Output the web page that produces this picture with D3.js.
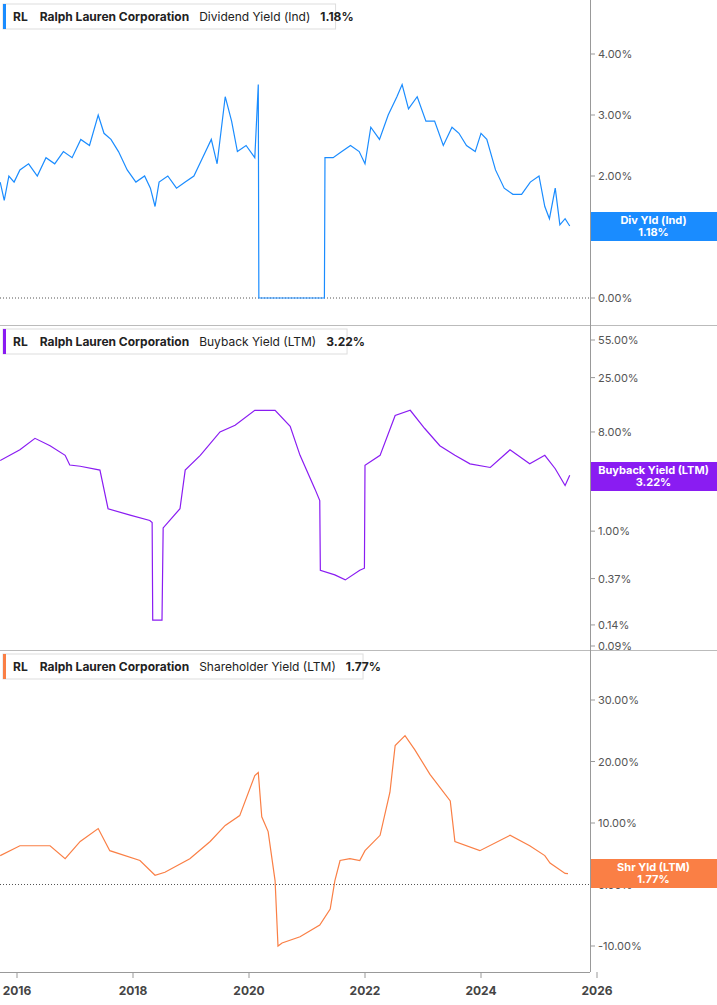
<!DOCTYPE html>
<html><head><meta charset="utf-8">
<script src="https://cdn.jsdelivr.net/npm/d3@7"></script>
<style>body{margin:0;background:#fff}svg{display:block;font-family:Inter,"Noto Sans",sans-serif}</style>
</head><body><div id="chart"></div>
<script>
// dates as decimal years
const divDates = [2015.71,2015.78,2015.86,2015.95,2016.05,2016.2,2016.35,2016.5,2016.65,2016.8,2016.95,2017.1,2017.25,2017.4,2017.5,2017.62,2017.75,2017.9,2018.05,2018.2,2018.3,2018.38,2018.45,2018.6,2018.75,2018.9,2019.05,2019.2,2019.35,2019.45,2019.59,2019.7,2019.8,2019.95,2020.1,2020.16,2020.17,2021.30,2021.31,2021.45,2021.6,2021.75,2021.9,2022.0,2022.1,2022.25,2022.4,2022.55,2022.64,2022.75,2022.9,2023.05,2023.2,2023.35,2023.5,2023.62,2023.75,2023.9,2024.0,2024.1,2024.25,2024.4,2024.55,2024.7,2024.85,2025.0,2025.1,2025.18,2025.28,2025.36,2025.45,2025.53];
const divVals = [1.9,1.6,2.0,1.9,2.1,2.2,2.0,2.3,2.2,2.4,2.3,2.6,2.5,3.0,2.7,2.6,2.4,2.1,1.9,2.0,1.8,1.5,1.9,2.0,1.8,1.9,2.0,2.3,2.6,2.2,3.3,2.9,2.4,2.5,2.3,3.5,0,0,2.3,2.3,2.4,2.5,2.4,2.2,2.8,2.6,3.0,3.3,3.5,3.1,3.3,2.9,2.9,2.5,2.8,2.7,2.5,2.4,2.7,2.6,2.1,1.8,1.7,1.7,1.9,2.0,1.5,1.3,1.8,1.2,1.3,1.18];

const bbDates = [2015.71,2016.05,2016.31,2016.57,2016.83,2016.91,2017.09,2017.43,2017.57,2017.95,2018.29,2018.33,2018.34,2018.50,2018.52,2018.81,2018.90,2019.16,2019.50,2019.76,2020.10,2020.45,2020.71,2020.88,2021.14,2021.22,2021.23,2021.48,2021.66,2021.91,2021.99,2022.0,2022.26,2022.52,2022.78,2023.03,2023.29,2023.55,2023.81,2024.16,2024.50,2024.84,2025.10,2025.28,2025.45,2025.53];
const bbVals = [4.4,5.5,7.0,6.0,4.9,4.0,3.9,3.6,1.6,1.4,1.25,1.2,0.155,0.155,1.07,1.6,3.6,4.9,8.0,9.2,12.6,12.6,9.0,4.9,2.4,1.9,0.44,0.4,0.36,0.44,0.46,3.98,4.9,11.3,12.6,8.6,6.0,4.9,4.1,3.8,5.5,4.1,4.9,3.7,2.6,3.22];

const shDates = [2015.71,2016.05,2016.57,2016.83,2017.09,2017.40,2017.60,2018.12,2018.38,2018.55,2018.98,2019.33,2019.59,2019.84,2020.10,2020.16,2020.22,2020.33,2020.45,2020.50,2020.57,2020.88,2021.22,2021.40,2021.48,2021.57,2021.74,2021.91,2022.0,2022.26,2022.43,2022.52,2022.69,2022.86,2023.12,2023.47,2023.55,2023.98,2024.50,2024.84,2025.10,2025.19,2025.45,2025.50];
const shVals = [4.7,6.3,6.3,4.2,7.0,9.1,5.5,3.9,1.5,2.0,4.2,7.0,9.6,11.2,17.7,18.2,11.0,8.6,0.6,-10.0,-9.5,-8.5,-6.6,-4.0,0.6,3.9,4.2,3.9,5.5,8.0,15.0,22.6,24.2,21.9,17.9,13.6,7.0,5.5,8.0,6.3,4.7,3.5,1.8,1.77];

const xTicks = [2016,2018,2020,2022,2024,2026];
const divTicks = [0,1,2,3,4];
const bbTicks = [0.09,0.14,0.37,1,8,25,55];
const shTicks = [-10,0,10,20,30];

const W = 717, H = 1005, plotR = 590;
const svg = d3.select("#chart").append("svg").attr("width", W).attr("height", H);
const x = d3.scaleLinear().domain([2016, 2026]).range([17, 597]);

const panels = [
  {top:0,bottom:325,y:d3.scaleLinear().domain([0,4]).range([298,54]),ticks:divTicks,fmt:v=>v.toFixed(2)+"%",
   dates:divDates,vals:divVals,color:"#1a8cff",metric:"Dividend Yield (Ind)",val:"1.18%",tag:["Div Yld (Ind)","1.18%"],tagY:212,zero:true},
  {top:325,bottom:650,y:d3.scaleLog().domain([0.09,55]).range([646,340]),ticks:bbTicks,fmt:v=>v.toFixed(2)+"%",
   dates:bbDates,vals:bbVals,color:"#8a1cf2",metric:"Buyback Yield (LTM)",val:"3.22%",tag:["Buyback Yield (LTM)","3.22%"],tagY:462,zero:false},
  {top:650,bottom:972,y:d3.scaleLinear().domain([-10,30]).range([946,700]),ticks:shTicks,fmt:v=>v.toFixed(2)+"%",
   dates:shDates,vals:shVals,color:"#fa7f45",metric:"Shareholder Yield (LTM)",val:"1.77%",tag:["Shr Yld (LTM)","1.77%"],tagY:859,zero:true}
];

panels.forEach(p => {
  const g = svg.append("g");
  if (p.top > 0) g.append("line").attr("x1",0).attr("x2",W).attr("y1",p.top+0.5).attr("y2",p.top+0.5).attr("stroke","#bbb");
  p.ticks.forEach(t => {
    g.append("line").attr("x1",plotR).attr("x2",plotR+5).attr("y1",p.y(t)).attr("y2",p.y(t)).attr("stroke","#999");
    g.append("text").attr("x",598).attr("y",p.y(t)+4).attr("font-size",11).attr("fill","#555").text(p.fmt(t));
  });
  if (p.zero) g.append("line").attr("x1",0).attr("x2",plotR).attr("y1",p.y(0)).attr("y2",p.y(0))
    .attr("stroke","#555").attr("stroke-dasharray","1,2");
  const line = d3.line().x((d,i)=>x(p.dates[i])).y(d=>p.y(d));
  g.append("path").attr("d",line(p.vals)).attr("fill","none").attr("stroke",p.color).attr("stroke-width",1.2);

  // header
  const hy = p.top + 4;
  const hdr = g.append("g");
  const txt = hdr.append("text").attr("x",13).attr("y",hy+17).attr("font-size",12).attr("fill","#222");
  txt.append("tspan").attr("font-weight","bold").text("RL");
  txt.append("tspan").attr("dx",12).attr("font-weight","bold").text("Ralph Lauren Corporation");
  txt.append("tspan").attr("dx",10).text(p.metric);
  txt.append("tspan").attr("dx",10).attr("font-weight","bold").text(p.val);
  const bw = txt.node().getComputedTextLength() + 24;
  hdr.insert("rect","text").attr("x",3).attr("y",hy).attr("width",bw).attr("height",25).attr("fill","#fff").attr("stroke","#ddd");
  hdr.insert("rect","text").attr("x",3).attr("y",hy).attr("width",3).attr("height",25).attr("fill",p.color);

  // end tag
  g.append("rect").attr("x",plotR).attr("y",p.tagY).attr("width",W-plotR).attr("height",29).attr("fill",p.color);
  g.append("text").attr("x",(plotR+W)/2).attr("y",p.tagY+12).attr("text-anchor","middle").attr("font-size",11).attr("font-weight","bold").attr("fill","#fff").text(p.tag[0]);
  g.append("text").attr("x",(plotR+W)/2).attr("y",p.tagY+24).attr("text-anchor","middle").attr("font-size",11).attr("font-weight","bold").attr("fill","#fff").text(p.tag[1]);
});

svg.append("line").attr("x1",plotR+0.5).attr("x2",plotR+0.5).attr("y1",0).attr("y2",972).attr("stroke","#999");
svg.append("line").attr("x1",0).attr("x2",plotR).attr("y1",972.5).attr("y2",972.5).attr("stroke","#999");
xTicks.forEach(t => {
  svg.append("line").attr("x1",x(t)).attr("x2",x(t)).attr("y1",972).attr("y2",978).attr("stroke","#999");
  svg.append("text").attr("x",x(t)).attr("y",995).attr("text-anchor","middle").attr("font-size",12).attr("font-weight","bold").attr("fill","#444").text(t);
});
</script></body></html>
